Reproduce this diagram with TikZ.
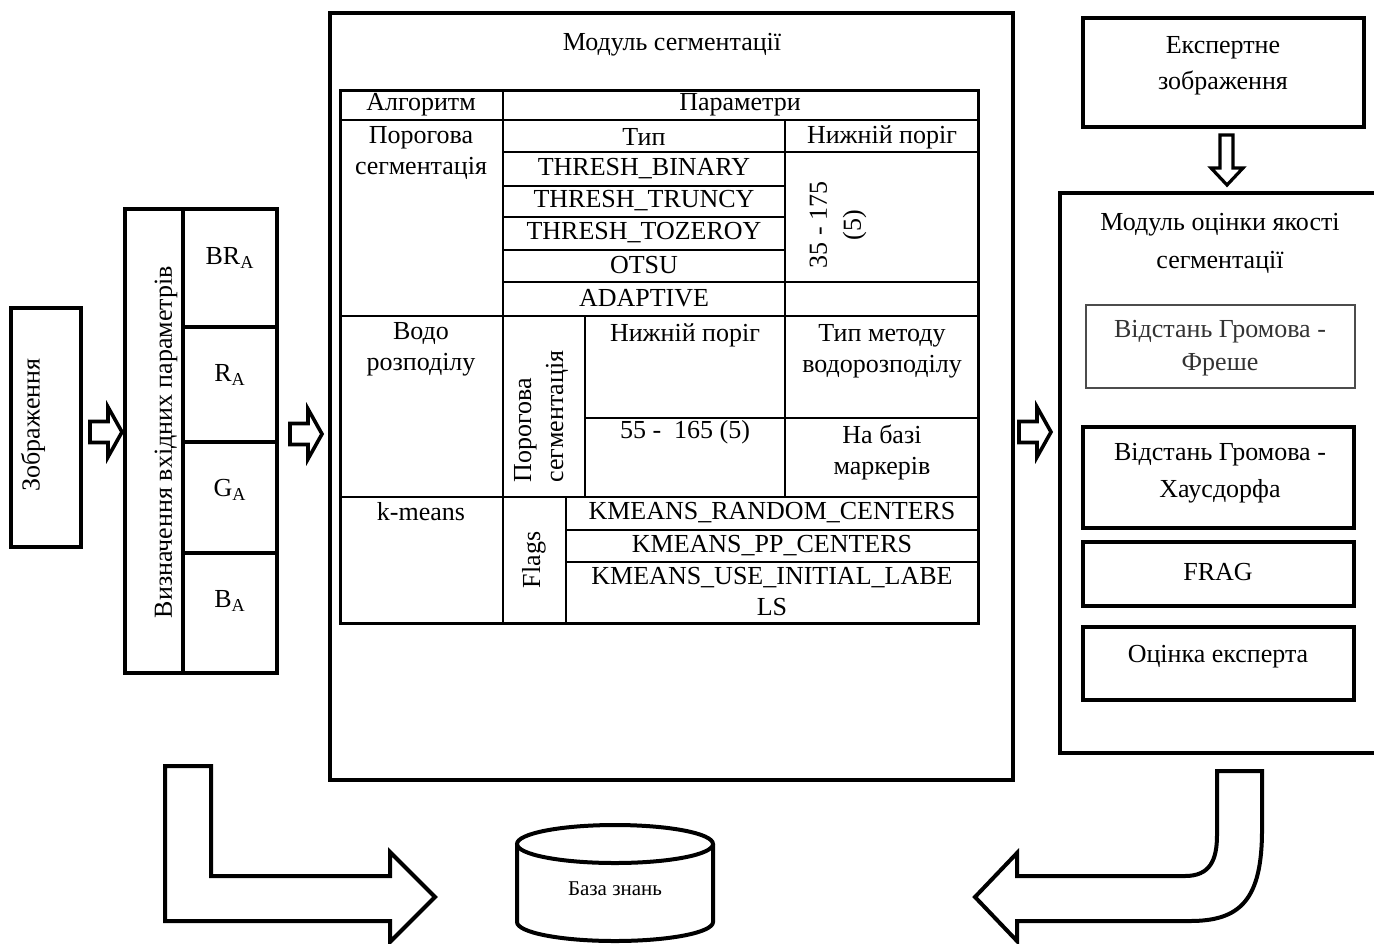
\documentclass[tikz,border=0pt]{standalone}
\usepackage{fontspec}
\setmainfont{Liberation Serif}
\usetikzlibrary{shapes.geometric}

\tikzset{
  blk/.style={draw, line width=2pt, inner sep=0pt},
  thinblk/.style={draw=black!70, line width=0.8pt, inner sep=0pt},
  cell/.style={font=\fontsize{13}{15.5}\selectfont, inner sep=0pt, align=center},
  tline/.style={line width=1pt},
  blockarrow/.style={draw, line width=2pt, line join=miter},
}
\newcommand{\rblock}[2]{\draw[line width=1.8pt, line join=miter] (#1,{#2-10.5}) -- ({#1+18},{#2-10.5}) -- ({#1+18},{#2-25}) -- ({#1+32},#2) -- ({#1+18},{#2+25}) -- ({#1+18},{#2+10.5}) -- (#1,{#2+10.5}) -- cycle;}

\begin{document}
\begin{tikzpicture}[x=0.5pt,y=-0.5pt]
\useasboundingbox (0,0) rectangle (1374,943);

% input
\node[blk, minimum width=35pt, minimum height=119.5pt] (img) at (46,427.5) {};
\node[cell, rotate=90] (imgtxt) at (33,425) {Зображення};

\node[blk, minimum width=29pt, minimum height=232pt] (par) at (154,441) {};
\node[cell, rotate=90] (partxt) at (166,442) {Визначення вхідних параметрів};

\node[blk, minimum width=47pt, minimum height=59pt]   (br) at (230,268) {};
\node[blk, minimum width=47pt, minimum height=57.5pt] (r)  at (230,384.5) {};
\node[blk, minimum width=47pt, minimum height=55.5pt] (g)  at (230,497.5) {};
\node[blk, minimum width=47pt, minimum height=60pt]   (b)  at (230,613) {};
\node[cell] (brtxt) at (230,258) {BR\textsubscript{A}};
\node[cell] (rtxt)  at (230,375) {R\textsubscript{A}};
\node[cell] (gtxt)  at (230,490) {G\textsubscript{A}};
\node[cell] (btxt)  at (230,601) {B\textsubscript{A}};

% segmentation module
\node[blk, minimum width=341.5pt, minimum height=383.5pt] (seg) at (671.5,396.5) {};
\node[cell] (segtitle) at (672,45) {Модуль сегментації};

\draw[line width=1.5pt] (340,90) rectangle (978,623);
\foreach \y in {120,316,497} \draw[tline] (340,\y) -- (978,\y);
\foreach \y in {152,282} \draw[tline] (503,\y) -- (978,\y);
\foreach \y in {186,217,250} \draw[tline] (503,\y) -- (785,\y);
\draw[tline] (585,418) -- (978,418);
\foreach \y in {530,562} \draw[tline] (566,\y) -- (978,\y);
\draw[tline] (503,90) -- (503,623);
\draw[tline] (785,120) -- (785,497);
\draw[tline] (585,316) -- (585,497);
\draw[tline] (566,497) -- (566,623);

\node[cell] (alg) at (421,105) {Алгоритм};
\node[cell] (prm) at (740,105) {Параметри};
\node[cell, anchor=north] (thr) at (421,126) {Порогова\\сегментація};
\node[cell] (typ) at (644,137) {Тип};
\node[cell] (low1) at (882,137) {Нижній поріг};
\node[cell] (t1) at (644,169) {THRESH\_BINARY};
\node[cell] (t2) at (644,201) {THRESH\_TRUNCY};
\node[cell] (t3) at (644,233) {THRESH\_TOZEROY};
\node[cell] (t4) at (644,265) {OTSU};
\node[cell] (t5) at (644,298) {ADAPTIVE};
\node[cell, rotate=90, font=\fontsize{13}{17}\selectfont] (rng1) at (838,225) {35 - 175\\(5)};

\node[cell, anchor=north] (ws) at (421,322) {Водо\\розподілу};
\node[cell, rotate=90, anchor=west, align=left, font=\fontsize{13}{16}\selectfont] (thr2) at (541,483) {Порогова\\сегментація};
\node[cell] (low2) at (685,335) {Нижній поріг};
\node[cell, anchor=north] (wtype) at (882,324) {Тип методу\\водорозподілу};
\node[cell] (rng2) at (685,432) {55 -\ \ 165 (5)};
\node[cell, anchor=north] (mark) at (882,424) {На базі\\маркерів};

\node[cell] (km) at (421,512) {k-means};
\node[cell, rotate=90] (flg) at (534,560) {Flags};
\node[cell] (k1) at (772,513) {KMEANS\_RANDOM\_CENTERS};
\node[cell] (k2) at (772,546) {KMEANS\_PP\_CENTERS};
\node[cell, anchor=north] (k3) at (772,567) {KMEANS\_USE\_INITIAL\_LABE\\LS};

% expert image
\node[blk, minimum width=140.5pt, minimum height=54.5pt] (expimg) at (1223.5,72.5) {};
\node[cell, font=\fontsize{13}{18}\selectfont] (exptxt) at (1223,66) {Експертне\\зображення};
\draw[line width=1.6pt, line join=miter] (1220,135) -- (1233,135) -- (1233,168) -- (1243,168) -- (1227,185) -- (1211,168) -- (1220,168) -- cycle;

% quality module
\node[blk, minimum width=160pt, minimum height=280pt] (qual) at (1220,473) {};
\node[cell, font=\fontsize{13}{19}\selectfont] (qualtitle) at (1220,243) {Модуль оцінки якості\\сегментації};
\node[thinblk, minimum width=134.5pt, minimum height=41.5pt] (gf) at (1220.5,346.5) {};
\node[cell, text=black!80, font=\fontsize{13}{16.5}\selectfont] (gftxt) at (1220,348.5) {Відстань Громова -\\Фреше};
\node[blk, minimum width=135.5pt, minimum height=50.5pt] (gh) at (1218.5,477.5) {};
\node[cell, font=\fontsize{13}{18.5}\selectfont] (ghtxt) at (1220,473.5) {Відстань Громова -\\Хаусдорфа};
\node[blk, minimum width=135.5pt, minimum height=32pt] (frag) at (1218.5,574) {};
\node[cell] (fragtxt) at (1218,572) {FRAG};
\node[blk, minimum width=135.5pt, minimum height=36.5pt] (ocn) at (1218.5,663.5) {};
\node[cell] (ocntxt) at (1218,657) {Оцінка експерта};

% flow
\rblock{90}{432}
\rblock{290}{434}
\rblock{1019}{432}

% knowledge base
\draw[line width=2pt] (615,844) ellipse [x radius=49pt, y radius=9.5pt];
\draw[line width=2pt] (517,844) -- (517,922) arc[start angle=180, end angle=360, x radius=49pt, y radius=9.5pt] -- (713,844);
\node[cell, font=\fontsize{10.5}{12}\selectfont] (kb) at (615,889) {База знань};

\draw[blockarrow] (165,766) -- (211,766) -- (211,876) -- (390,876) -- (390,852) -- (435,897) -- (390,942) -- (390,921) -- (165,921) -- cycle;
\draw[blockarrow] (1217,771) -- (1262,771) -- (1262,830) .. controls (1262,900) and (1240,921) .. (1190,921) -- (1017,921) -- (1017,941) -- (975,897) -- (1017,853) -- (1017,876) -- (1185,876) .. controls (1210,876) and (1217,860) .. (1217,835) -- cycle;
\end{tikzpicture}
\end{document}
